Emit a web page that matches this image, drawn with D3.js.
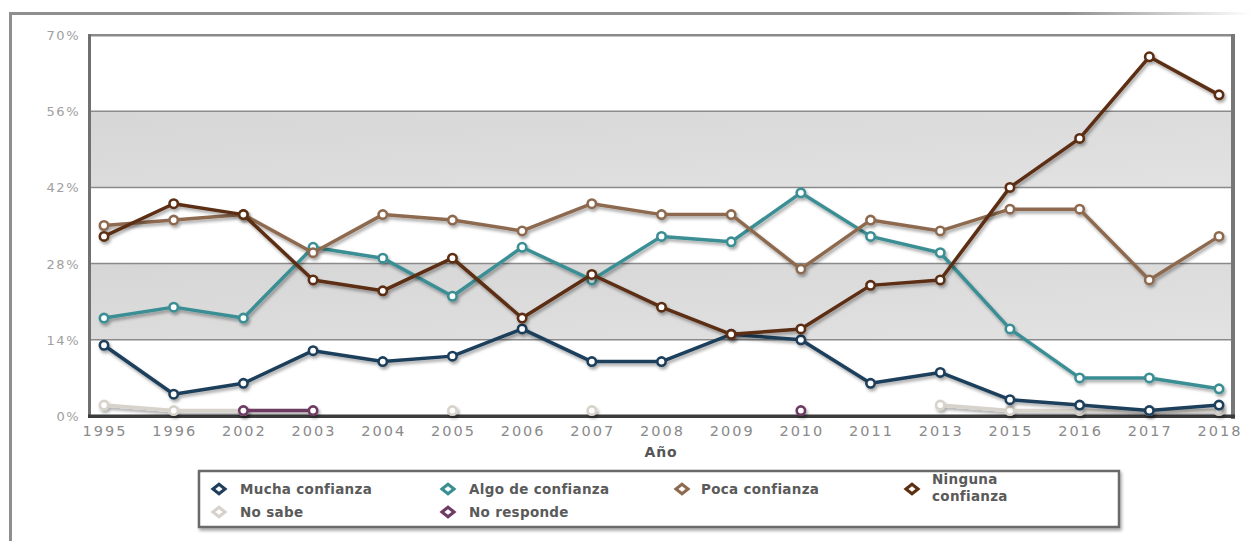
<!DOCTYPE html>
<html>
<head>
<meta charset="utf-8">
<script src="https://cdn.jsdelivr.net/npm/d3@7"></script>
<style>
  body { margin: 0; background: #fff; }
  svg { display: block; }
  text { font-family: "DejaVu Sans", Verdana, sans-serif; }
</style>
</head>
<body>
<script>
// años y series (porcentaje)
var years = ["1995","1996","2002","2003","2004","2005","2006","2007","2008","2009","2010","2011","2013","2015","2016","2017","2018"];
var mucha   = [13, 4, 6, 12, 10, 11, 16, 10, 10, 15, 14, 6, 8, 3, 2, 1, 2];
var algo    = [18, 20, 18, 31, 29, 22, 31, 25, 33, 32, 41, 33, 30, 16, 7, 7, 5];
var poca    = [35, 36, 37, 30, 37, 36, 34, 39, 37, 37, 27, 36, 34, 38, 38, 25, 33];
var ninguna = [33, 39, 37, 25, 23, 29, 18, 26, 20, 15, 16, 24, 25, 42, 51, 66, 59];
var noSabe  = [2, 1, 1, null, null, 1, null, 1, null, null, null, null, 2, 1, 1, 1, 1];
var noResp  = [null, null, 1, 1, null, null, null, null, null, null, 1, null, null, null, null, null, null];
var yTicks = [0, 14, 28, 42, 56, 70];
var seriesNames = ["Mucha confianza", "Algo de confianza", "Poca confianza", "Ninguna confianza", "No sabe", "No responde"];
var seriesColors = ["#1f3f5c", "#3b8f94", "#8d6b50", "#5c2f12", "#d7d3cb", "#6e3b62"];

var W = 1252, H = 541;
var svg = d3.select("body").append("svg").attr("width", W).attr("height", H);

var defs = svg.append("defs");
var f = defs.append("filter").attr("id", "shadow").attr("filterUnits", "userSpaceOnUse")
  .attr("x", 0).attr("y", 0).attr("width", W).attr("height", H);
f.append("feDropShadow").attr("dx", 1.5).attr("dy", 2.5).attr("stdDeviation", 1.5)
  .attr("flood-color", "#000").attr("flood-opacity", 0.35);
var fb = defs.append("filter").attr("id", "soft").attr("filterUnits", "userSpaceOnUse")
  .attr("x", 0).attr("y", 0).attr("width", W).attr("height", H);
fb.append("feGaussianBlur").attr("stdDeviation", 0.7);
var fade = defs.append("linearGradient").attr("id", "fade").attr("x1", "0").attr("x2", "1");
fade.append("stop").attr("offset", "0.85").attr("stop-color", "#8f8f8f");
fade.append("stop").attr("offset", "1").attr("stop-color", "#8f8f8f").attr("stop-opacity", 0);
var band = defs.append("linearGradient").attr("id", "band").attr("x1", "0").attr("x2", "1").attr("y1", "0").attr("y2", "1");
band.append("stop").attr("offset", "0").attr("stop-color", "#d6d6d6");
band.append("stop").attr("offset", "1").attr("stop-color", "#e2e2e2");

// marco exterior
svg.append("rect").attr("x", 9).attr("y", 12).attr("width", 1243).attr("height", 3).attr("fill", "url(#fade)");
svg.append("rect").attr("x", 9).attr("y", 12).attr("width", 3).attr("height", 529).attr("fill", "#8f8f8f");

var pLeft = 90, pTop = 35, pRight = 1232, pBottom = 416;
var x = d3.scalePoint().domain(years).range([104, 1219]);
var y = d3.scaleLinear().domain([0, 70]).range([pBottom, pTop]);

var g = svg.append("g");

// bandas grises
for (var i = 0; i < yTicks.length - 1; i++) {
  g.append("rect")
    .attr("x", pLeft).attr("width", pRight - pLeft)
    .attr("y", y(yTicks[i + 1])).attr("height", y(yTicks[i]) - y(yTicks[i + 1]))
    .attr("fill", i % 2 == 1 ? "url(#band)" : "#fff");
}
// lineas de cuadricula
g.selectAll(".grid").data(yTicks.slice(1, -1)).enter().append("line")
  .attr("x1", pLeft).attr("x2", pRight)
  .attr("y1", function(d){ return y(d); }).attr("y2", function(d){ return y(d); })
  .attr("stroke", "#8a8a8a").attr("stroke-width", 1.5);

// borde del area
var frame = g.append("g").attr("filter", "url(#soft)");
frame.append("rect").attr("x", pLeft - 1).attr("y", pTop - 1).attr("width", pRight - pLeft + 2).attr("height", 2.5).attr("fill", "#8a8a8a");
frame.append("rect").attr("x", pLeft - 2).attr("y", pTop - 1).attr("width", 3).attr("height", pBottom - pTop + 2).attr("fill", "#6f6f6f");
frame.append("rect").attr("x", pRight - 1).attr("y", pTop - 1).attr("width", 4).attr("height", pBottom - pTop + 4).attr("fill", "#777");
frame.append("rect").attr("x", pLeft - 2).attr("y", pBottom - 1.5).attr("width", pRight - pLeft + 5).attr("height", 3.5).attr("fill", "#3a3a3a");

// etiquetas eje y
g.selectAll(".ylab").data(yTicks).enter().append("text")
  .attr("x", 80).attr("y", function(d){ return y(d) + 5; })
  .attr("text-anchor", "end").attr("font-size", 13).attr("letter-spacing", 1.5)
  .attr("fill", "#a0a0a0").text(function(d){ return d + "%"; });

// etiquetas eje x
g.selectAll(".xlab").data(years).enter().append("text")
  .attr("x", function(d){ return x(d) + 1; }).attr("y", 436)
  .attr("text-anchor", "middle").attr("font-size", 14.5).attr("letter-spacing", 2)
  .attr("fill", "#8a8a8a").text(function(d){ return d; });

svg.append("text").attr("x", 661).attr("y", 457).attr("text-anchor", "middle")
  .attr("font-size", 14).attr("font-weight", "bold").attr("letter-spacing", 0.8)
  .attr("fill", "#555").text("Año");

// series
var allSeries = [mucha, algo, poca, ninguna, noSabe, noResp];
var drawOrder = [4, 5, 0, 1, 2, 3];
var line = d3.line()
  .defined(function(d){ return d != null; })
  .x(function(d, i){ return x(years[i]); })
  .y(function(d){ return y(d); });

drawOrder.forEach(function(k){
  var vals = allSeries[k];
  var sg = g.append("g").attr("filter", "url(#shadow)");
  sg.append("path").datum(vals)
    .attr("d", line).attr("fill", "none")
    .attr("stroke", seriesColors[k]).attr("stroke-width", 3.5)
    .attr("stroke-linejoin", "round");
  sg.selectAll("circle").data(vals.map(function(v, i){ return {v: v, i: i}; }).filter(function(d){ return d.v != null; }))
    .enter().append("circle")
    .attr("cx", function(d){ return x(years[d.i]); })
    .attr("cy", function(d){ return y(d.v); })
    .attr("r", 4.2)
    .attr("fill", "#fff")
    .attr("stroke", seriesColors[k]).attr("stroke-width", 2.6);
});

// leyenda
var lg = svg.append("g");
lg.append("rect").attr("x", 199).attr("y", 471).attr("width", 920).attr("height", 56)
  .attr("fill", "#fff").attr("stroke", "#6a6a6a").attr("stroke-width", 2.5).attr("filter", "url(#shadow)");

var legendPos = [
  {mx: 219, tx: 240, y: 489},
  {mx: 448, tx: 469, y: 489},
  {mx: 682, tx: 701, y: 489},
  {mx: 912, tx: 932, y: 489},
  {mx: 219, tx: 240, y: 512},
  {mx: 448, tx: 469, y: 512}
];
seriesNames.forEach(function(name, k){
  var p = legendPos[k];
  lg.append("path")
    .attr("d", d3.symbol().type(d3.symbolDiamond2).size(60)())
    .attr("transform", "translate(" + p.mx + "," + p.y + ") scale(1.25,1)")
    .attr("fill", "#fff").attr("stroke", seriesColors[k]).attr("stroke-width", 2.8);
  var t = lg.append("text").attr("x", p.tx).attr("font-size", 13.5)
    .attr("font-weight", "bold").attr("fill", "#5a5a5a").attr("letter-spacing", 0.3);
  if (name == "Ninguna confianza") {
    t.append("tspan").attr("x", p.tx).attr("y", p.y - 5).text("Ninguna");
    t.append("tspan").attr("x", p.tx).attr("y", p.y + 12).text("confianza");
  } else {
    t.attr("y", p.y + 5).text(name);
  }
});
</script>
</body>
</html>
